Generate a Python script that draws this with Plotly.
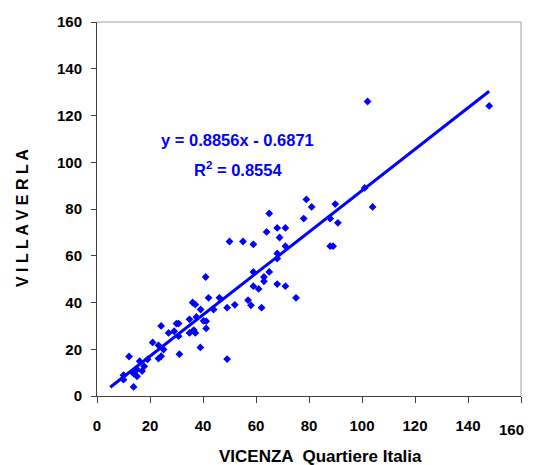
import plotly.graph_objects as go
import numpy as np

# Data (VICENZA Quartiere Italia vs VILLAVERLA)
vicenza = [41.0, 42.1, 46.2, 36.1, 37.1, 39.1, 44.0, 49.1, 52.0, 37.5,
           34.9, 40.2, 41.2, 41.2, 24.2, 30.0, 30.8, 27.0, 29.1, 34.9,
           37.1, 36.5, 30.8, 21.0, 23.2, 25.1, 39.0, 31.1, 24.2, 23.2,
           49.1, 12.1, 16.1, 19.1, 17.8, 17.0, 15.1, 13.8, 15.1, 10.0,
           10.0, 13.8, 79.0, 81.0, 89.9, 65.0, 78.0, 88.0, 90.9, 68.0,
           71.1, 64.0, 68.9, 50.0, 55.1, 59.0, 88.0, 89.1, 71.1, 68.0,
           68.0, 59.0, 65.0, 63.0, 63.0, 59.0, 61.0, 68.0, 71.1, 75.1,
           57.0, 58.1, 62.1, 102.1, 148.0, 101.0, 104.0]
villaverla = [50.9, 42.0, 42.0, 40.0, 39.1, 37.0, 37.0, 37.8, 39.0, 33.8,
              32.8, 32.1, 32.0, 28.9, 30.0, 31.0, 31.0, 27.0, 27.7, 27.0,
              27.0, 28.2, 25.6, 22.9, 21.7, 19.9, 20.8, 17.9, 17.0, 16.0,
              15.8, 16.9, 14.9, 15.7, 12.7, 10.7, 11.3, 9.6, 8.4, 8.9,
              7.0, 3.9, 84.1, 80.9, 82.1, 78.1, 75.9, 75.9, 74.1, 71.9,
              71.9, 70.2, 67.8, 66.1, 66.1, 64.9, 64.1, 64.1, 64.1, 61.0,
              58.8, 53.1, 53.1, 50.9, 49.1, 47.0, 45.8, 47.9, 47.0, 42.0,
              41.0, 38.8, 37.8, 126.0, 124.1, 89.0, 80.9]

# Linear trendline as shown on the chart
slope = 0.8856
intercept = -0.6871
r_squared = 0.8554
trend_x_range = [5, 148]

x_ticks = [0, 20, 40, 60, 80, 100, 120, 140, 160]
y_ticks = [0, 20, 40, 60, 80, 100, 120, 140, 160]

FONT = "Liberation Sans, Arial, sans-serif"
BLUE = "#0000FF"

tx = np.array(trend_x_range, dtype=float)
ty = slope * tx + intercept

fig = go.Figure()
fig.add_trace(go.Scatter(
    x=vicenza, y=villaverla, mode="markers",
    marker=dict(symbol="diamond", size=6, color=BLUE, line=dict(width=0)),
    showlegend=False, hoverinfo="x+y"))
fig.add_trace(go.Scatter(
    x=tx, y=ty, mode="lines",
    line=dict(color=BLUE, width=3),
    showlegend=False, hoverinfo="skip"))

tickfont = dict(family=FONT, size=15, color="black", weight="bold")

# the last x tick label sits at the page edge; it is drawn as an annotation
# nudged inward so it is not clipped
x_ticktext = [str(v) for v in x_ticks[:-1]] + [" "]

# page body has an 8px margin, so the figure is sized/offset to compensate
fig.update_layout(
    width=526, height=457,
    margin=dict(l=89, r=13, t=14, b=69),
    paper_bgcolor="white", plot_bgcolor="white",
    font=dict(family=FONT, size=15, color="black"),
    xaxis=dict(range=[0, 160], tickvals=x_ticks, ticktext=x_ticktext,
               showgrid=False, zeroline=False, showline=True, linecolor="#404040",
               linewidth=1, ticks="outside", ticklen=6, tickcolor="#404040",
               tickfont=tickfont, ticklabelstandoff=10, automargin=False,
               ticklabeloverflow="allow", fixedrange=True),
    yaxis=dict(range=[0, 160], tickvals=y_ticks, ticktext=[str(v) for v in y_ticks],
               showgrid=False, zeroline=False, showline=True, linecolor="#404040",
               linewidth=1, ticks="outside", ticklen=5, tickcolor="#404040",
               tickfont=tickfont, ticklabelstandoff=6, automargin=False,
               ticklabeloverflow="allow", fixedrange=True),
    shapes=[
        dict(type="line", xref="paper", yref="paper", x0=0, x1=1, y0=1, y1=1,
             line=dict(color="#A0A0A0", width=1), layer="below"),
        dict(type="line", xref="paper", yref="paper", x0=1, x1=1, y0=0, y1=1,
             line=dict(color="#A0A0A0", width=1), layer="below"),
    ],
    annotations=[
        dict(text=str(x_ticks[-1]), xref="x", yref="paper",
             x=x_ticks[-1], y=0, xanchor="right", yanchor="top",
             xshift=4, yshift=-24, showarrow=False, borderpad=0,
             font=tickfont),
        dict(text="y = %.4fx - %.4f" % (slope, -intercept), xref="paper", yref="paper",
             x=0.331, y=0.684, xanchor="center", yanchor="middle", showarrow=False,
             font=dict(family=FONT, size=16.5, color=BLUE, weight="bold")),
        dict(text="R<sup>2</sup> = %.4f" % r_squared, xref="paper", yref="paper",
             x=0.333, y=0.607, xanchor="center", yanchor="middle", showarrow=False,
             font=dict(family=FONT, size=16.5, color=BLUE, weight="bold")),
        dict(text="VICENZA  Quartiere Italia", xref="paper", yref="paper",
             x=(320 - 97) / 424, y=-60 / 374, xanchor="center", yanchor="middle",
             showarrow=False,
             font=dict(family=FONT, size=17, color="black", weight="bold")),
        dict(text="V I L L A V E R L A", xref="paper", yref="paper",
             x=-75 / 424, y=(396 - 218) / 374, xanchor="center", yanchor="middle",
             textangle=-90, showarrow=False,
             font=dict(family=FONT, size=16, color="black", weight="bold")),
    ],
)

fig.write_html("out.html")
